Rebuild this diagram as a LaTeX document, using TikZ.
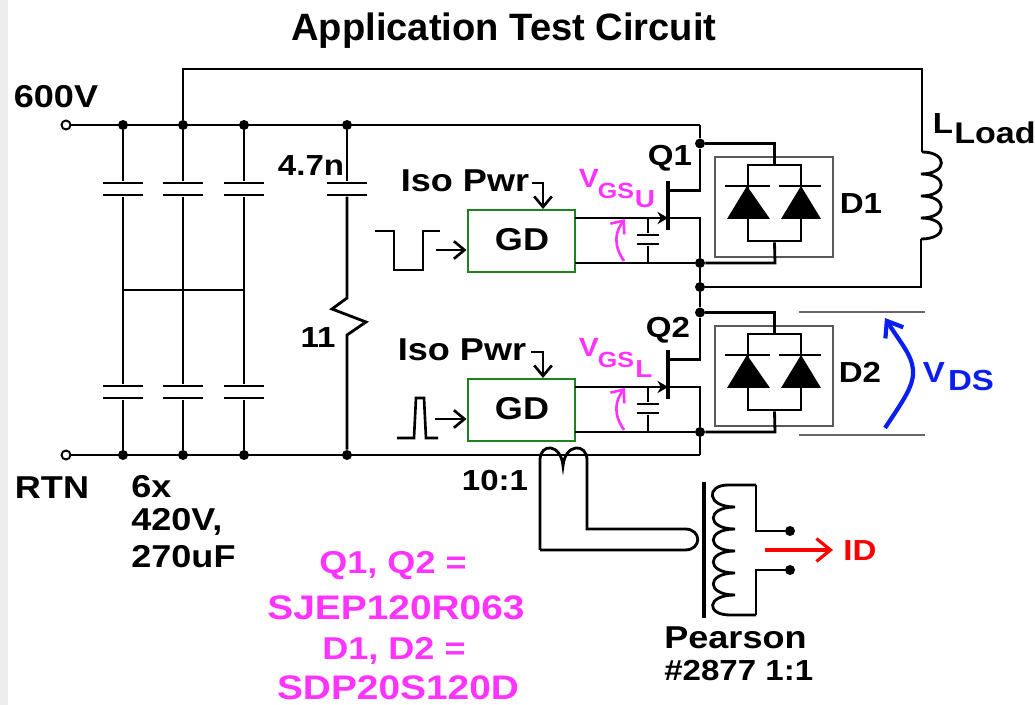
\documentclass[tikz,border=0pt]{standalone}
\usepackage{fontspec}
\setmainfont{Liberation Sans}[BoldFont=* Bold]
\newfontfamily\widefont{Liberation Sans Bold}[FakeStretch=1.14]
\usetikzlibrary{arrows.meta}
\newcommand{\px}{0.02cm}
\definecolor{vgspink}{RGB}{255,51,255}
\definecolor{gdgreen}{RGB}{30,130,30}
\definecolor{vdsblue}{RGB}{10,30,240}
\tikzset{
	wire/.style={draw=black,line width=1.6pt},
	thin wire/.style={draw=black,line width=1.5pt},
	dot/.style={circle,fill=black,inner sep=0pt,minimum size=10*\px},
	term/.style={circle,draw=black,line width=1.1pt,fill=white,inner sep=0pt,minimum size=9*\px},
	plate/.style={fill=black,inner sep=0pt,minimum height=2.7*\px,minimum width=#1*\px},
	plate/.default=40,
	gatedrv/.style={draw=gdgreen,line width=1.7pt,fill=white,inner sep=0pt,minimum width=107*\px,minimum height=62*\px},
	label/.style={inner sep=0pt,font=\widefont\fontsize{16.5}{18}\selectfont},
	biglabel/.style={inner sep=0pt,font=\widefont\fontsize{18}{20}\selectfont},
	pinklabel/.style={inner sep=0pt,text=vgspink,font=\widefont\fontsize{18}{20}\selectfont},
	partlabel/.style={inner sep=0pt,text=vgspink,font=\widefont\fontsize{19.4}{20}\selectfont},
	barb/.style={-{Straight Barb[length=6pt,width=10pt]}}
}
\begin{document}
\begin{tikzpicture}[x=0.02cm,y=-0.02cm]
		\useasboundingbox (0,0) rectangle (1035,705);
		\fill[black!7] (0,0) rectangle (8,705);

		% supply rails
		\node[term] (vin) at (66,125) {};
		\node[term] (rtn) at (66,455) {};
		\coordinate (tr) at (700,125);
		\coordinate (br) at (700,455);
		\foreach \n/\x in {1/123,2/183,3/244,4/347} {
			\node[dot] (t\n) at (\x,125) {};
			\node[dot] (b\n) at (\x,455) {};
			\node[plate] (ca\n) at (\x,183) {};
			\node[plate] (cb\n) at (\x,195) {};
		}
		\foreach \n/\x in {1/123,2/183,3/244} {
			\node[plate] (cc\n) at (\x,386) {};
			\node[plate] (cd\n) at (\x,398) {};
			\coordinate (m\n) at (\x,290);
			\path (t\n) edge[wire] (ca\n);
			\path (cb\n) edge[wire] (m\n);
			\path (m\n) edge[wire] (cc\n);
			\path (cd\n) edge[wire] (b\n);
		}
		\draw[wire] (vin) -- (tr);
		\draw[wire] (rtn) -- (br);
		\draw[wire] (m1) -- (m3);

		% snubber
		\coordinate (ra) at (347,298);
		\coordinate (rb) at (347,335);
		\draw[wire] (t4) -- (ca4);
		\draw[wire] (cb4) -- (ra) -- (332,309) -- (366,322) -- (rb) -- (b4);

		% half bridges
		\foreach \n/\dy in {1/0,2/169} {
			\begin{scope}[shift={(0,\dy)}]
				\node[gatedrv] (gd\n) at (521.5,241) {};
				\node[biglabel] at (522,240) {GD};
				\coordinate (hi\n) at (575,218);
				\coordinate (lo\n) at (575,263);
				\coordinate (gate\n) at (668,218);
				\coordinate (src\n) at (700,218);
				\coordinate (drn\n) at (700,190.5);
				\coordinate (fd\n) at (668,190.5);
				\coordinate (ch\n) at (648,218);
				\coordinate (cl\n) at (648,263);
				\node[dot] (jd\n) at (700,143.5) {};
				\node[dot] (js\n) at (700,263) {};
				\node[plate=22] (gp\n) at (648,235) {};
				\node[plate=22] (gq\n) at (648,244) {};
				\node[inner sep=0pt,fill=black,minimum width=3.5*\px,minimum height=49*\px] (fet\n) at (668,205.5) {};

				\draw[wire] (hi\n) -- (src\n) -- (js\n);
				\draw[wire] (lo\n) -- (js\n);
				\draw[wire] (fd\n) -- (drn\n) -- (jd\n);
				\draw[wire] (ch\n) -- (gp\n);
				\draw[wire] (gq\n) -- (cl\n);
				\draw[wire,-{Stealth[length=6pt,width=7pt]}] (655,218) -- (gate\n);

				% diode pair
				\node[draw=black!65,line width=1.1pt,inner sep=0pt,minimum width=118*\px,minimum height=100*\px] (box\n) at (774,207) {};
				\node[wire,draw,inner sep=0pt,minimum width=53*\px,minimum height=76*\px] (fr\n) at (774.5,203) {};
				\coordinate (dout\n) at (775,263);
				\draw[wire] (jd\n) -| (fr\n.north);
				\draw[wire] (fr\n.south) -- (dout\n) -- (js\n);
				\fill (747,186) -- (770,219) -- (727,219) -- cycle;
				\fill (801,186) -- (821,219) -- (781,219) -- cycle;
				\draw[line width=1.6pt] (725,186) -- (770,186);
				\draw[line width=1.6pt] (779,186) -- (821,186);

				\draw[vgspink,line width=1.5pt,barb] (624,261) .. controls (613,245) and (615,232) .. (625,219);
			\end{scope}
		}
		\node[dot] (jm) at (700,287) {};
		\draw[wire] (tr) -- (jd1);
		\draw[wire] (js1) -- (jm) -- (jd2);
		\draw[wire] (js2) -- (br);

		% load
		\coordinate (ltop) at (183,69);
		\coordinate (lcor) at (922,69);
		\coordinate (la) at (922,152);
		\coordinate (lb) at (921,239);
		\coordinate (lret) at (921,287);
		\draw[wire] (t2) -- (ltop) -- (lcor) -- (la);
		\draw[wire] (la) .. controls (948,152) and (948,174) .. (921,174)
			.. controls (948,174) and (948,196) .. (921,196)
			.. controls (948,196) and (948,218) .. (921,218)
			.. controls (948,218) and (948,239) .. (lb);
		\draw[wire] (lb) -- (lret) -- (jm);

		% gate signals
		\draw[thin wire] (375,231) -- (394,231) -- (394,270) -- (423,270) -- (423,231) -- (440,231);
		\draw[thin wire] (397,438) -- (414,438) -- (416,398) -- (424,398) -- (426,438) -- (438,438);
		\coordinate (sa) at (436,250);
		\coordinate (sb) at (435,419);
		\draw[thin wire,barb] (sa) -- (gd1.west |- sa);
		\draw[thin wire,barb] (sb) -- (gd2.west |- sb);
		\draw[thin wire,barb] (532,183) -- (543,183) -- (543,209);
		\draw[thin wire,barb] (531,352) -- (543,352) -- (543,378);

		% current sense
		\coordinate (pa) at (540,550);
		\coordinate (pb) at (587,529);
		\coordinate (pc) at (685,529);
		\coordinate (pd) at (685,550);
		\node[dot] (oa) at (790,531) {};
		\node[dot] (ob) at (790,570) {};
		\coordinate (ca) at (756,485);
		\coordinate (cb) at (756,615);
		\draw[wire] (pa) -- (540,460) .. controls (540,443) and (561,443) .. (563,466)
			.. controls (565,443) and (587,443) .. (587,460) -- (pb) -- (pc)
			.. controls (702,529) and (702,550) .. (pd) -- (pa);
		\draw[line width=1.8pt] (704,482) -- (704,618);
		\draw[wire] (ca) -- (728,485) .. controls (706,485) and (706,507) .. (735,507)
			.. controls (706,507) and (706,529) .. (735,529)
			.. controls (706,529) and (706,551) .. (735,551)
			.. controls (706,551) and (706,573) .. (735,573)
			.. controls (706,573) and (706,595) .. (735,595)
			.. controls (706,595) and (706,615) .. (730,615) -- (cb);
		\draw[wire] (ca) |- (oa);
		\draw[wire] (cb) |- (ob);
		\draw[red,line width=1.8pt,-{Straight Barb[length=8pt,width=13pt]}] (765,550) -- (833,550);

		% VDS
		\draw[black!60,line width=1.1pt] (799,312) -- (925,312);
		\draw[black!60,line width=1.1pt] (799,435) -- (925,435);
		\draw[vdsblue,line width=2.4pt,-{Straight Barb[length=8pt,width=12pt]}] (885,428) .. controls (905,398) and (914,385) .. (913,370) .. controls (912,355) and (900,342) .. (885,318);

		% labels
		\node[inner sep=0pt,font=\bfseries\fontsize{21.7}{24}\selectfont] (title) at (504,31) {Application Test Circuit};
		\node[biglabel] (l600) at (56,97) {600V};
		\node[biglabel] (lrtn) at (52,488) {RTN};
		\node[biglabel,anchor=west] (l6x) at (131,487) {6x};
		\node[biglabel,anchor=west] (l420) at (131,522) {420V,};
		\node[biglabel,anchor=west] (l270) at (131,557) {270uF};
		\node[label] (l47) at (311,166) {4.7n};
		\node[label] (l11) at (318,338) {11};
		\node[label] (l101) at (495,481) {10:1};
		\node[biglabel] (iso1) at (465,181) {Iso Pwr};
		\node[biglabel] (iso2) at (462,350) {Iso Pwr};
		\node[label] (q1) at (670,158) {Q1};
		\node[label] (q2) at (668,330) {Q2};
		\node[label] (d1) at (861,204) {D1};
		\node[label] (d2) at (860,372) {D2};
		\node[label] (ll) at (943,124) {L};
		\node[inner sep=0pt,font=\widefont\fontsize{17}{18}\selectfont] (load) at (995,133) {Load};
		\node[biglabel,anchor=west] (pear) at (664,638) {Pearson};
		\node[label,anchor=west] (num) at (664,671) {\#2877\ 1:1};
		\node[label,text=red] (id) at (860,551) {ID};
		\node[label,text=vdsblue] (vv) at (934,373) {V};
		\node[label,text=vdsblue] (ds) at (971,381) {DS};
		\node[pinklabel,font=\widefont\fontsize{15}{16}\selectfont] (vu) at (589,178) {V};
		\node[pinklabel,font=\widefont\fontsize{12.5}{14}\selectfont] (gsu) at (616,191) {GS};
		\node[pinklabel,font=\widefont\fontsize{14}{14}\selectfont] (su) at (645,199) {U};
		\node[pinklabel,font=\widefont\fontsize{15}{16}\selectfont] (vl) at (589,347) {V};
		\node[pinklabel,font=\widefont\fontsize{12.5}{14}\selectfont] (gsl) at (616,360) {GS};
		\node[pinklabel,font=\widefont\fontsize{14}{14}\selectfont] (sl) at (644,369) {L};
		\node[pinklabel] (part1) at (393,566) {Q1, Q2 =};
		\node[partlabel] (part2) at (396,608) {SJEP120R063};
		\node[pinklabel] (part3) at (394,651) {D1, D2 =};
		\node[partlabel] (part4) at (398,688) {SDP20S120D};
\end{tikzpicture}
\end{document}
